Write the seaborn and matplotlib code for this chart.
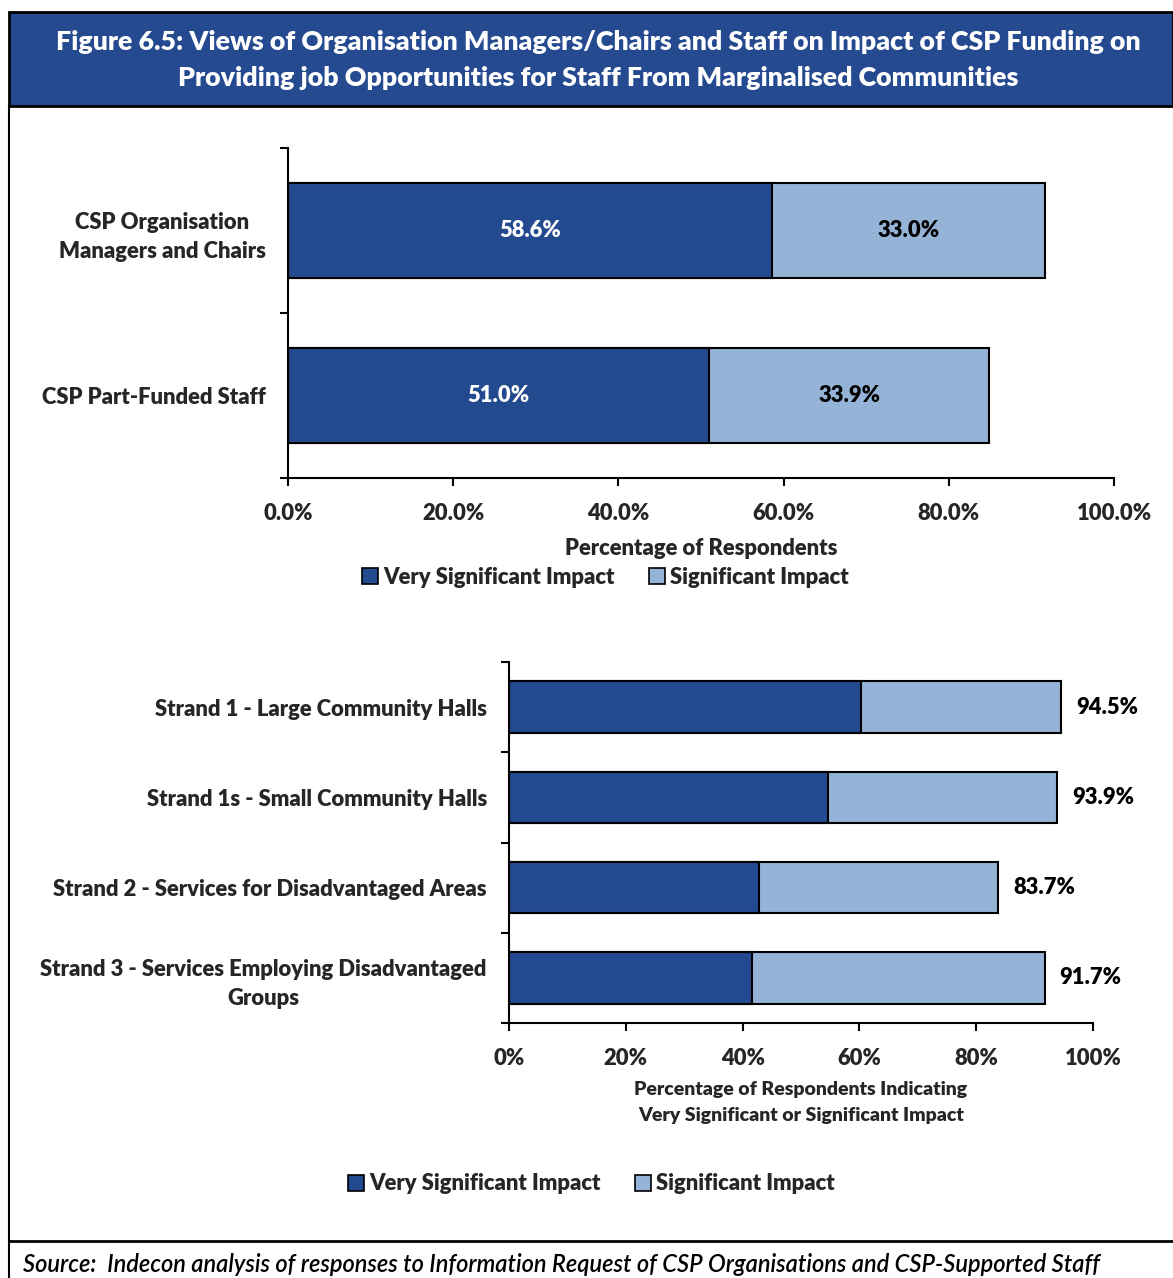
import matplotlib
matplotlib.use("Agg")
import matplotlib.pyplot as plt
from matplotlib.patches import Rectangle
from matplotlib.lines import Line2D
from matplotlib.ticker import FixedLocator, FuncFormatter
import pandas as pd
import seaborn as sns

# ---- data ----
top_groups = ["CSP Organisation\nManagers and Chairs", "CSP Part-Funded Staff"]
top_very = [58.6, 51.0]
top_sig = [33.0, 33.9]

strands = [
    "Strand 1 - Large Community Halls",
    "Strand 1s - Small Community Halls",
    "Strand 2 - Services for Disadvantaged Areas",
    "Strand 3 - Services Employing Disadvantaged\nGroups",
]
strand_very = [60.3, 54.6, 42.8, 41.6]
strand_total = [94.5, 93.9, 83.7, 91.7]

series_names = ["Very Significant Impact", "Significant Impact"]
title_text = ("Figure 6.5: Views of Organisation Managers/Chairs and Staff on Impact of CSP Funding on\n"
              "Providing job Opportunities for Staff From Marginalised Communities")
source_text = "Source:  Indecon analysis of responses to Information Request of CSP Organisations and CSP-Supported Staff"

DARK = "#234A8E"
LIGHT = "#95B3D7"
HEAD = "#254A8F"
WT = "heavy"
FS = 15.8

sns.set_theme(style="white")
plt.rcParams["font.family"] = ["Lato", "DejaVu Sans"]
plt.rcParams["font.weight"] = WT

W, H = 1173, 1278
fig = plt.figure(figsize=(W / 100, H / 100), dpi=100)


def fx(x):
    return x / W


def fy(y):
    return 1 - y / H


def axes_px(left, top, right, bottom):
    return fig.add_axes([fx(left), fy(bottom), (right - left) / W, (bottom - top) / H])


# ---- frame and header ----
fig.patches.append(Rectangle((fx(9), fy(106)), (W - 9) / W, (106 - 12) / H,
                             transform=fig.transFigure, facecolor=HEAD,
                             edgecolor="black", linewidth=2, zorder=0))
fig.lines.append(Line2D([fx(9), fx(9)], [fy(106), 0], transform=fig.transFigure,
                        color="black", linewidth=1.5))
fig.lines.append(Line2D([fx(9), 1], [fy(1241), fy(1241)], transform=fig.transFigure,
                        color="black", linewidth=2))
fig.text(fx(598), fy(60), title_text, ha="center", va="center", color="white",
         fontsize=19.3, fontweight=WT, linespacing=1.55)
fig.text(fx(23), fy(1264), source_text, ha="left", va="center", color="black",
         fontsize=17, fontstyle="italic", fontweight="semibold")


def style_axes(ax, n):
    sns.despine(ax=ax)
    for s in ("left", "bottom"):
        ax.spines[s].set_color("black")
        ax.spines[s].set_linewidth(1.5)
    ax.set_xlim(0, 100)
    ax.set_ylim(n - 0.5, -0.5)
    ax.set_xticks(range(0, 101, 20))
    ax.tick_params(axis="x", which="major", direction="out", length=6, width=1.5,
                   color="black", bottom=True, labelsize=FS, pad=12)
    ax.tick_params(axis="y", which="major", length=0, labelsize=FS, pad=16)
    ax.yaxis.set_minor_locator(FixedLocator([i - 0.5 for i in range(n + 1)]))
    ax.tick_params(axis="y", which="minor", direction="out", length=6, width=1.5,
                   color="black", left=True)
    for lab in ax.get_yticklabels():
        lab.set_multialignment("center")
        lab.set_linespacing(1.5)
    ax.set_ylabel("")
    ax.grid(False)


# ---- top chart ----
ax1 = axes_px(288, 148, 1114, 478)
df1 = pd.DataFrame({"group": top_groups, "very": top_very,
                    "total": [a + b for a, b in zip(top_very, top_sig)]})
sns.barplot(data=df1, y="group", x="total", orient="h", color=LIGHT, saturation=1,
            width=0.576, edgecolor="black", linewidth=1.5, ax=ax1)
sns.barplot(data=df1, y="group", x="very", orient="h", color=DARK, saturation=1,
            width=0.576, edgecolor="black", linewidth=1.5, ax=ax1)
style_axes(ax1, len(top_groups))
ax1.xaxis.set_major_formatter(FuncFormatter(lambda v, p: f"{v:.1f}%"))
ax1.set_xlabel("Percentage of Respondents", fontsize=FS, fontweight=WT, labelpad=10)
for i, (v, s) in enumerate(zip(top_very, top_sig)):
    ax1.text(v / 2, i, f"{v:.1f}%", ha="center", va="center", color="white",
             fontsize=FS, fontweight=WT)
    ax1.text(v + s / 2, i, f"{s:.1f}%", ha="center", va="center", color="black",
             fontsize=FS, fontweight=WT)

# ---- bottom chart ----
ax2 = axes_px(509, 662, 1093, 1023)
df2 = pd.DataFrame({"strand": strands, "very": strand_very, "total": strand_total})
sns.barplot(data=df2, y="strand", x="total", orient="h", color=LIGHT, saturation=1,
            width=0.57, edgecolor="black", linewidth=1.5, ax=ax2)
sns.barplot(data=df2, y="strand", x="very", orient="h", color=DARK, saturation=1,
            width=0.57, edgecolor="black", linewidth=1.5, ax=ax2)
style_axes(ax2, len(strands))
ax2.xaxis.set_major_formatter(FuncFormatter(lambda v, p: f"{v:.0f}%"))
ax2.set_xlabel("Percentage of Respondents Indicating\nVery Significant or Significant Impact",
               fontsize=14, fontweight=WT, labelpad=9, linespacing=1.6)
for i, t in enumerate(strand_total):
    ax2.text(t + 2.6, i, f"{t:.1f}%", ha="left", va="center", color="black",
             fontsize=FS, fontweight=WT)

# ---- legends ----
handles = [Line2D([], [], marker="s", linestyle="none", markersize=11,
                  markerfacecolor=c, markeredgecolor="black", markeredgewidth=1.2)
           for c in (DARK, LIGHT)]
for cx, cy in ((604, 577), (590, 1184)):
    fig.legend(handles, series_names, loc="center", bbox_to_anchor=(fx(cx), fy(cy)),
               ncol=2, frameon=False, prop={"size": FS, "weight": WT},
               handletextpad=0.1, columnspacing=1.45, handlelength=1.0)

fig.savefig("out.png", dpi=100)
